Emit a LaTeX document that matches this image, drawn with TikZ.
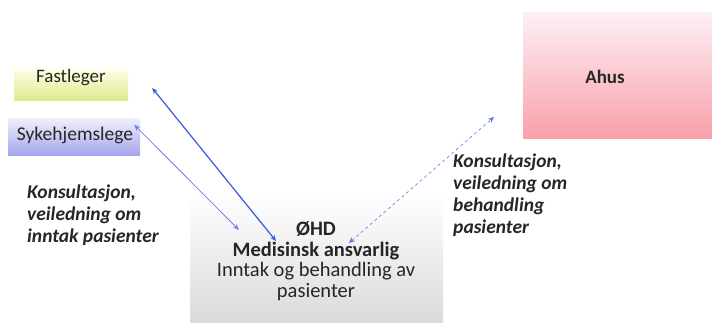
\documentclass[tikz,border=0pt]{standalone}
\usepackage{fontspec}
\setmainfont{Carlito}
\usetikzlibrary{arrows.meta,calc}
\definecolor{arrowA}{HTML}{3A55E0}
\definecolor{arrowB}{HTML}{6F80EA}
\definecolor{arrowC}{HTML}{5A78E6}
\tikzset{
  box/.style={draw=none, inner sep=0pt},
  lbl/.style={font=\fontsize{19}{21}\selectfont, text=black!85},
  note/.style={align=left, anchor=base west, inner sep=0pt,
    font=\fontsize{19.5}{22}\selectfont\bfseries\itshape, text=black!85},
  link/.style={{Stealth[length=6pt,width=5pt]}-{Stealth[length=6pt,width=5pt]}},
}
\begin{document}
\begin{tikzpicture}[x=1pt,y=-1pt]
\useasboundingbox (0,0) rectangle (712,322);
\clip (0,0) rectangle (712,322);
% boxes
\node[box, minimum width=114pt, minimum height=32pt, top color=yellow!8, bottom color={rgb,255:red,222;green,234;blue,140}] (fast) at (71,84) {};
\node[box, minimum width=132pt, minimum height=37pt, top color={rgb,255:red,240;green,240;blue,252}, bottom color={rgb,255:red,165;green,165;blue,235}] (syk) at (74,136.5) {};
\node[box, minimum width=200pt, minimum height=126pt, top color={rgb,255:red,253;green,240;blue,245}, bottom color={rgb,255:red,248;green,160;blue,170}] (ahus) at (623,75) {};
\node[box, minimum width=253pt, minimum height=140pt, top color=white, bottom color={rgb,255:red,215;green,215;blue,215}] (ohd) at (316.5,265) {};
% labels
\node[lbl] (fasttxt) at (71,78) {Fastleger};
\node[lbl, font=\fontsize{19.5}{21}\selectfont] (syktxt) at (75,135) {Sykehjemslege};
\node[lbl, font=\fontsize{19}{21}\selectfont\bfseries] (ahustxt) at (605,77) {Ahus};
\node[align=center, inner sep=0pt, font=\fontsize{20.5}{20.5}\selectfont, text=black!85] (ohdtxt) at (316,261)
  {\textbf{ØHD}\\\textbf{Medisinsk ansvarlig}\\Inntak og behandling av\\pasienter};
\node[note] (lnote) at (27,242) {Konsultasjon,\\veiledning om\\inntak pasienter};
\node[note] (rnote) at (453,233) {Konsultasjon,\\veiledning om\\behandling\\pasienter};
% connector end points
\coordinate (f1) at ($(fast.east)+(24,4)$);
\coordinate (o1) at (276,241);
\coordinate (s1) at ($(syk.north east)+(-6,7)$);
\coordinate (o2) at (239,230);
\coordinate (a1) at (494,117);
\coordinate (o3) at (349,243);
\draw[link, arrowA, line width=1.2pt] (o1) -- (f1);
\draw[link, arrowB, line width=0.8pt] (s1) -- (o2);
\draw[link, arrowC, line width=0.6pt, dashed] (o3) -- (a1);
\end{tikzpicture}
\end{document}
